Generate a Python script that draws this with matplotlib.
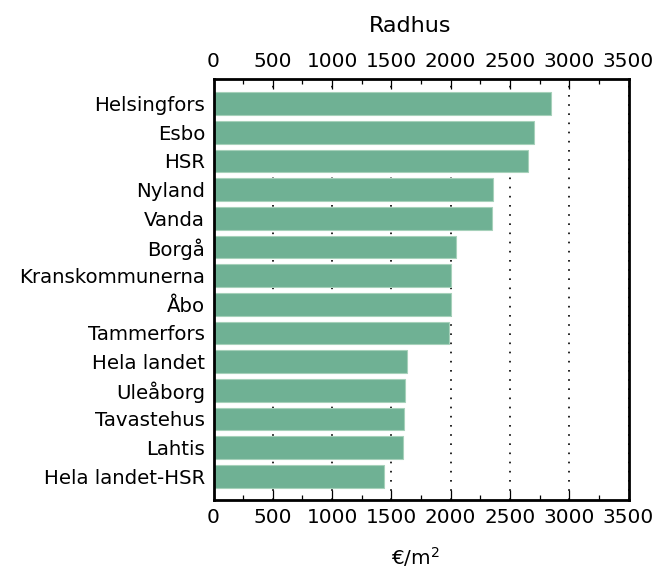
import matplotlib
matplotlib.use("Agg")
import matplotlib.pyplot as plt
from matplotlib.ticker import MultipleLocator

categories = ["Helsingfors", "Esbo", "HSR", "Nyland", "Vanda", "Borgå",
              "Kranskommunerna", "Åbo", "Tammerfors", "Hela landet",
              "Uleåborg", "Tavastehus", "Lahtis", "Hela landet-HSR"]
values = [2843, 2699, 2649, 2356, 2353, 2041, 2004, 2004, 1982, 1630,
          1618, 1610, 1602, 1435]
title = "Radhus"
xlabel = "€/m$^{2}$"

plt.rcParams['font.family'] = ['DejaVu Sans']

fig = plt.figure(figsize=(6.58, 5.70), dpi=100)
ax = fig.add_axes([213.5/658, 1-500/570, 415/658, 421/570])

y = list(range(len(categories)))
ax.barh(y, values, height=0.79, color='#6fb194', edgecolor='#a6d1ba',
        linewidth=0.8, zorder=3)

ax.set_xlim(0, 3500)
ax.set_ylim(13.83, -0.86)
ax.set_yticks(y)
ax.set_yticklabels(categories, fontsize=14.2)
ax.tick_params(axis='y', length=0, pad=6)

ax.xaxis.set_major_locator(MultipleLocator(500))
ax.xaxis.set_minor_locator(MultipleLocator(250))
ax.tick_params(axis='x', which='both', direction='in', top=True, bottom=True,
               labeltop=True, labelbottom=True, labelsize=14.4, pad=6)
ax.tick_params(axis='x', which='major', length=7, width=0.9)
ax.tick_params(axis='x', which='minor', length=3.5, width=0.9)

ax.grid(axis='x', which='major', color='black', linewidth=1.2,
        linestyle=(0, (1, 4.5)), zorder=0)
ax.set_axisbelow(True)

for s in ax.spines.values():
    s.set_linewidth(2)
    s.set_zorder(5)

fig.text(410/658, 1-32/570, title, ha='center', va='baseline', fontsize=16)
fig.text(415/658, 1-565/570, xlabel, ha='center', va='baseline', fontsize=14.4)

fig.savefig("out.png", dpi=100)
